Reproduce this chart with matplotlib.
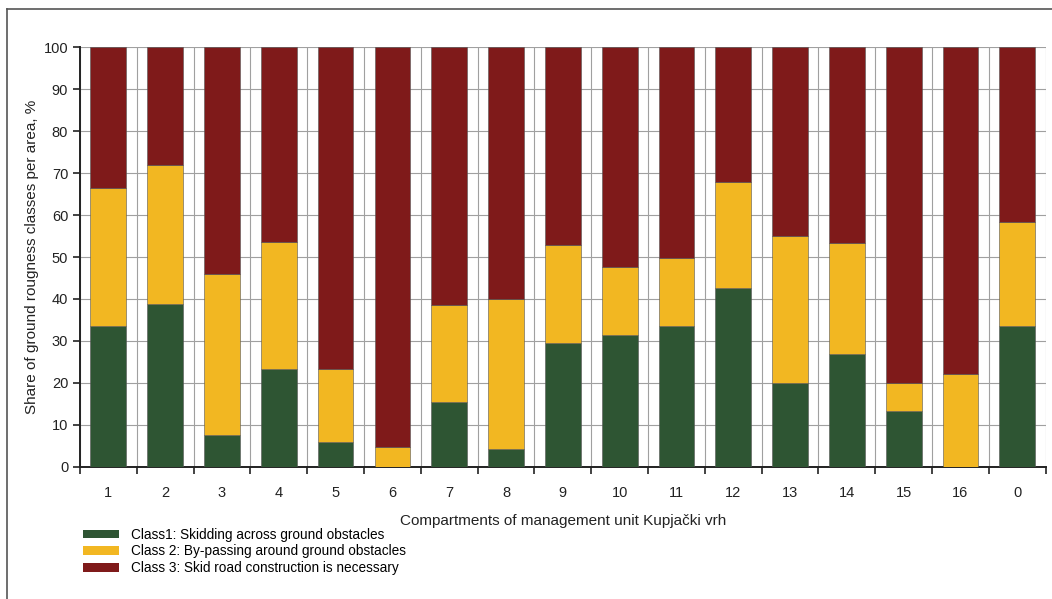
import numpy as np
import matplotlib.pyplot as plt
from matplotlib.lines import Line2D
from matplotlib.patches import Patch

plt.rcParams['font.family'] = ['Liberation Sans', 'DejaVu Sans']

# data
compartments = ['1', '2', '3', '4', '5', '6', '7', '8', '9', '10', '11', '12', '13', '14', '15', '16', '0']
class1 = [33.5, 38.9, 7.6, 23.3, 5.9, 0.0, 15.5, 4.2, 29.5, 31.5, 33.5, 42.6, 20.0, 26.9, 13.4, 0.0, 33.5]
class2 = [33.0, 33.0, 38.4, 30.3, 17.5, 4.8, 23.0, 35.8, 23.4, 16.0, 16.2, 25.2, 35.0, 26.4, 6.5, 22.2, 24.8]
class3 = [100 - a - b for a, b in zip(class1, class2)]

labels = ['Class1: Skidding across ground obstacles',
          'Class 2: By-passing around ground obstacles',
          'Class 3: Skid road construction is necessary']
colors = ['#2e5533', '#f2b722', '#7f1a1a']

fig = plt.figure(figsize=(10.52, 5.99), dpi=100)
ax = fig.add_axes([0.076, 0.2204, 0.918, 0.7011])

x = np.arange(len(compartments))
w = 0.63
ax.bar(x, class1, w, color=colors[0], edgecolor='#555555', linewidth=0.4, zorder=3)
ax.bar(x, class2, w, bottom=class1, color=colors[1], edgecolor='#555555', linewidth=0.4, zorder=3)
ax.bar(x, class3, w, bottom=np.array(class1) + np.array(class2), color=colors[2],
       edgecolor='#555555', linewidth=0.4, zorder=3)

ax.set_xlim(-0.5, len(compartments) - 0.5)
ax.set_ylim(0, 100)
ax.set_yticks(np.arange(0, 101, 10))
ax.set_xticks(x)
ax.set_xticklabels(compartments)
ax.set_xticks(np.arange(-0.5, len(compartments) - 0.4, 1), minor=True)
ax.tick_params(axis='x', which='major', length=0, pad=14, labelsize=10.5, colors='#222222')
ax.tick_params(axis='x', which='minor', length=5, width=1.2, color='#222222')
ax.tick_params(axis='y', length=5, width=1.2, labelsize=10.5, colors='#222222')

ax.grid(axis='y', which='major', color='#a0a0a0', linewidth=0.8, zorder=0)
ax.grid(axis='x', which='minor', color='#a0a0a0', linewidth=0.8, zorder=0)
ax.grid(axis='x', which='major', visible=False)

for s in ['top', 'right']:
    ax.spines[s].set_visible(False)
ax.spines['left'].set_linewidth(1.4)
ax.spines['bottom'].set_linewidth(1.4)
ax.spines['left'].set_color('#222222')
ax.spines['bottom'].set_color('#222222')

ax.set_ylabel('Share of ground rougness classes per area, %', fontsize=11, color='#222222', labelpad=3)
ax.set_xlabel('Compartments of management unit Kupjački vrh', fontsize=11, color='#222222', labelpad=10)

handles = [Patch(facecolor=c, edgecolor='none') for c in colors]
fig.legend(handles, labels, loc='upper left', bbox_to_anchor=(0.074, 0.128), frameon=False,
           fontsize=9.8, handlelength=2.6, handleheight=0.6, labelspacing=0.2,
           handletextpad=0.9, borderaxespad=0)

# frame around the picture
fig.add_artist(Line2D([7 / 1052, 1.0], [1 - 9 / 599, 1 - 9 / 599], color='#555555', linewidth=1.2))
fig.add_artist(Line2D([7 / 1052, 7 / 1052], [0.0, 1 - 9 / 599], color='#555555', linewidth=1.2))

fig.savefig('out.png', dpi=100)
